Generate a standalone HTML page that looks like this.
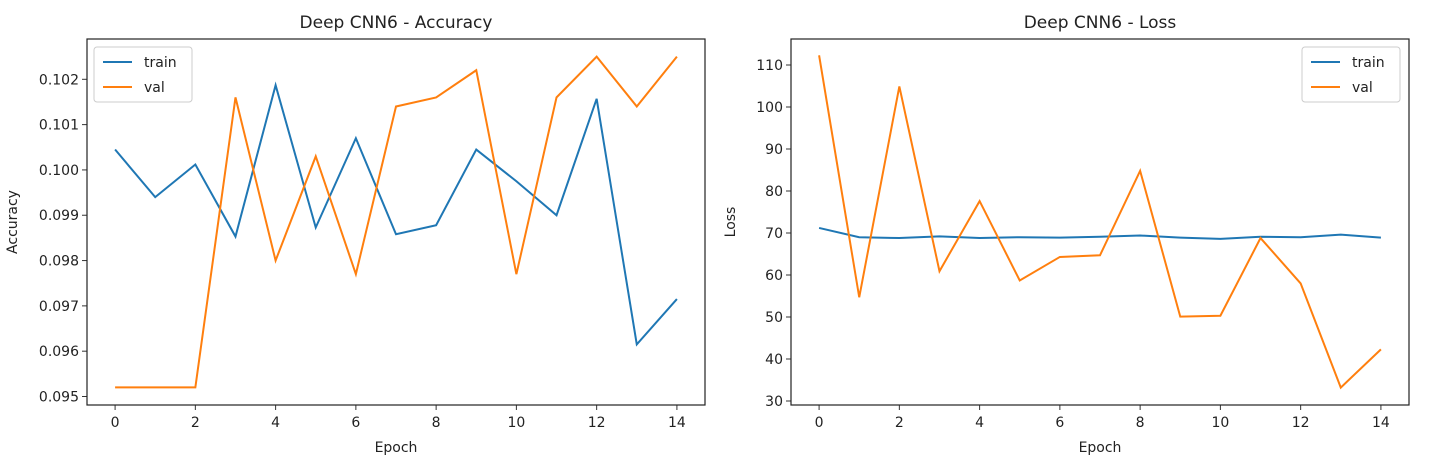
<!DOCTYPE html>
<html><head><meta charset="utf-8"><style>
body{margin:0;background:#fff;}
svg text{font-family:"DejaVu Sans","Liberation Sans",sans-serif;fill:#222;}
</style></head><body>
<svg id="c" width="1456" height="469" xmlns="http://www.w3.org/2000/svg"></svg>
<script>
const epochs=[0,1,2,3,4,5,6,7,8,9,10,11,12,13,14];
const accTrain=[0.10045,0.0994,0.10012,0.09853,0.10187,0.09873,0.1007,0.09858,0.09878,0.10045,0.09975,0.0990,0.10157,0.09615,0.09715];
const accVal=[0.0952,0.0952,0.0952,0.1016,0.0980,0.1003,0.0977,0.1014,0.1016,0.1022,0.0977,0.1016,0.1025,0.1014,0.1025];
const lossTrain=[71.2,69,68.8,69.2,68.8,69,68.9,69.1,69.4,68.9,68.6,69.1,69,69.6,68.9];
const lossVal=[112.3,54.7,104.9,60.9,77.6,58.7,64.3,64.7,84.8,50.1,50.3,68.8,58,33.2,42.3];
const xTicks=[0,2,4,6,8,10,12,14];
const accTicks=[0.095,0.096,0.097,0.098,0.099,0.100,0.101,0.102];
const lossTicks=[30,40,50,60,70,80,90,100,110];
const NS="http://www.w3.org/2000/svg";
const svg=document.getElementById('c');
function mk(t,a,p){const e=document.createElementNS(NS,t);for(const k in a)e.setAttribute(k,a[k]);(p||svg).appendChild(e);return e;}
function panel(o){
 const g=mk('g',{});
 
 
 const X=v=>o.x0+(v+0.7)*(o.x1-o.x0)/15.4;
 const Y=v=>o.ya+(v-o.va)*(o.yb-o.ya)/(o.vb-o.va);
 const c=o.dec;
 xTicks.forEach(t=>{mk('line',{x1:X(t),x2:X(t),y1:405,y2:410,stroke:'#333'},g);
  const tx=mk('text',{x:X(t),y:427,'text-anchor':'middle','font-size':14},g);tx.textContent=t;});
 o.ticks.forEach(t=>{mk('line',{x1:o.x0-5,x2:o.x0,y1:Y(t),y2:Y(t),stroke:'#333'},g);
  const tx=mk('text',{x:o.x0-8,y:Y(t)+5,'text-anchor':'end','font-size':14},g);tx.textContent=t.toFixed(c);});
 const draw=(arr,col,nm)=>{const p=mk('polyline',{points:arr.map((v,i)=>X(epochs[i])+','+Y(v)).join(' '),fill:'none',stroke:col,'stroke-width':2,'stroke-linejoin':'miter'},g);
  
  };
 draw(o.train,'#1f77b4',o.name+'-train-line');
 draw(o.val,'#ff7f0e',o.name+'-val-line');
 mk('rect',{x:o.x0,y:39,width:o.x1-o.x0,height:366,fill:'none',stroke:'#222','stroke-width':1.2},g);
 const t=mk('text',{x:(o.x0+o.x1)/2,y:28,'text-anchor':'middle','font-size':17},g);t.textContent=o.title;
 
 const xl=mk('text',{x:(o.x0+o.x1)/2,y:452,'text-anchor':'middle','font-size':14},g);xl.textContent='Epoch';
 
 const yl=mk('text',{x:0,y:0,'text-anchor':'middle','font-size':14,transform:`translate(${o.ylx},222) rotate(-90)`},g);yl.textContent=o.ylabel;
 
 const lg=mk('g',{},g);
 mk('rect',{x:o.lx,y:47,width:98,height:55,rx:3,fill:'#fff',stroke:'#ccc'},lg);
 [['train','#1f77b4'],['val','#ff7f0e']].forEach((s,i)=>{const yy=62+i*25;
  mk('line',{x1:o.lx+9,x2:o.lx+38,y1:yy,y2:yy,stroke:s[1],'stroke-width':2},lg);
  const tt=mk('text',{x:o.lx+50,y:yy+5,'font-size':14},lg);tt.textContent=s[0];});
}
panel({name:'accuracy-chart',x0:87,x1:705,ya:79.3,va:0.102,yb:396.5,vb:0.095,ticks:accTicks,dec:3,train:accTrain,val:accVal,title:'Deep CNN6 - Accuracy',ylabel:'Accuracy',ylx:17,lx:94});
panel({name:'loss-chart',x0:791,x1:1409,ya:401,va:30,yb:359,vb:40,ticks:lossTicks,dec:0,train:lossTrain,val:lossVal,title:'Deep CNN6 - Loss',ylabel:'Loss',ylx:735,lx:1302});
</script>
</body></html>
